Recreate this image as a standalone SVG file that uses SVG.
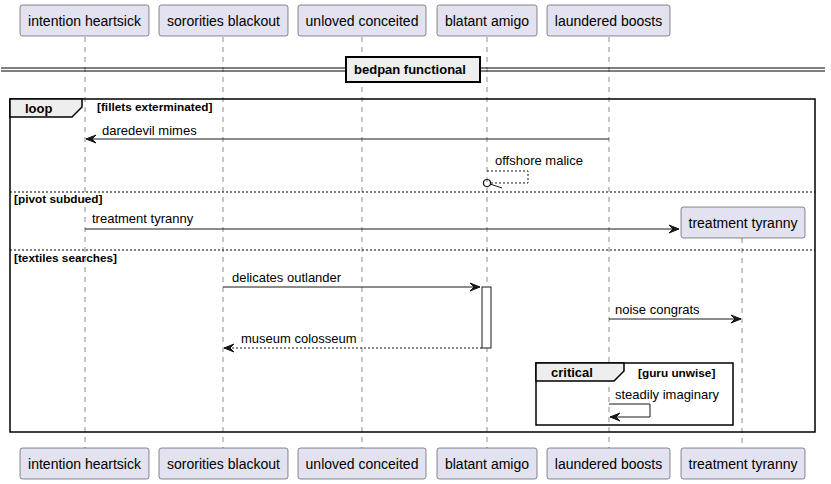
<svg xmlns="http://www.w3.org/2000/svg" width="831" height="484" viewBox="0 0 831 484">
<style>
.p rect{fill:#E2E2F0;stroke:#181818;stroke-width:0.5}
.pt{font-family:"Liberation Sans",Arial,sans-serif;font-size:14px;fill:#000;text-anchor:middle}
.life{stroke:#181818;stroke-width:0.5;stroke-dasharray:5,5}
.msg{stroke:#181818;stroke-width:1;fill:none}
.dash{stroke-dasharray:2,2}
.ml{font-family:"Liberation Sans",Arial,sans-serif;font-size:13px;fill:#000}
.frame{fill:none;stroke:#000;stroke-width:1.5}
.tab{fill:#EEEEEE;stroke:#000;stroke-width:1.5}
.fl{font-family:"Liberation Sans",Arial,sans-serif;font-size:13px;font-weight:bold;fill:#000}
.fc{font-family:"Liberation Sans",Arial,sans-serif;font-size:11.8px;font-weight:bold;fill:#000}
.sep{stroke:#000;stroke-width:1;stroke-dasharray:2,2}
.ah{fill:#181818;stroke:#181818;stroke-width:1}
</style>
<g id="lifelines">
<line class="life" x1="85" y1="37" x2="85" y2="448"/>
<line class="life" x1="223" y1="37" x2="223" y2="448"/>
<line class="life" x1="362" y1="37" x2="362" y2="448"/>
<line class="life" x1="487" y1="37" x2="487" y2="448"/>
<line class="life" x1="609" y1="37" x2="609" y2="448"/>
<line class="life" x1="742" y1="238" x2="742" y2="448"/>
</g>
<g id="divider">
<line x1="1" y1="68" x2="825" y2="68" stroke="#000" stroke-width="1"/>
<line x1="1" y1="71" x2="825" y2="71" stroke="#000" stroke-width="1"/>
<rect x="346" y="57" width="134" height="25" fill="#EEEEEE" stroke="#000" stroke-width="2"/>
<text class="fl" x="410" y="74" text-anchor="middle">bedpan functional</text>
</g>
<g id="loop">
<rect class="frame" x="10" y="99" width="805" height="333"/>
<path class="tab" d="M10,99 L82,99 L82,107 L72,117 L10,117 Z"/>
<text class="fl" x="25" y="113">loop</text>
<text class="fc" x="97" y="111">[fillets exterminated]</text>
<line class="sep" x1="10" y1="192" x2="815" y2="192"/>
<text class="fc" x="14" y="203">[pivot subdued]</text>
<line class="sep" x1="10" y1="250" x2="815" y2="250"/>
<text class="fc" x="14" y="262">[textiles searches]</text>
</g>
<g id="critical">
<rect class="frame" x="536" y="363" width="197" height="62"/>
<path class="tab" d="M536,363 L624,363 L624,371 L614,381 L536,381 Z"/>
<text class="fl" x="551" y="377">critical</text>
<text class="fc" x="638" y="377">[guru unwise]</text>
</g>
<g id="activation">
<rect x="482" y="287" width="9" height="61" fill="#FFFFFF" stroke="#181818" stroke-width="1"/>
</g>
<g id="connectors">
<line class="msg" x1="609" y1="139" x2="86" y2="139"/>
<polygon class="ah" points="86,139 96,135 92,139 96,143"/>
<text class="ml" x="102" y="135">daredevil mimes</text>
<path class="msg dash" d="M487,171 L528,171 L528,183 L491,183"/>
<circle cx="487" cy="183" r="3.5" fill="none" stroke="#181818" stroke-width="1.2"/>
<line class="msg" x1="490" y1="184" x2="502" y2="188"/>
<text class="ml" x="495" y="165">offshore malice</text>
<line class="msg" x1="85" y1="229" x2="679" y2="229"/>
<polygon class="ah" points="679,229 669,225 673,229 669,233"/>
<text class="ml" x="92" y="223">treatment tyranny</text>
<line class="msg" x1="223" y1="287" x2="480" y2="287"/>
<polygon class="ah" points="480,287 470,283 474,287 470,291"/>
<text class="ml" x="232" y="282">delicates outlander</text>
<line class="msg" x1="609" y1="319" x2="741" y2="319"/>
<polygon class="ah" points="741,319 731,315 735,319 731,323"/>
<text class="ml" x="615" y="314">noise congrats</text>
<line class="msg dash" x1="482" y1="348" x2="224" y2="348"/>
<polygon class="ah" points="224,348 234,344 230,348 234,352"/>
<text class="ml" x="241" y="343">museum colosseum</text>
<path class="msg" d="M609,404 L650,404 L650,417 L610,417"/>
<polygon class="ah" points="610,417 620,413 616,417 620,421"/>
<text class="ml" x="615" y="399">steadily imaginary</text>
</g>
<g id="p-intention-heartsick" class="p">
<rect x="20" y="5" width="129" height="31" rx="2.5"/>
<text class="pt" x="84.5" y="26">intention heartsick</text>
<rect x="20" y="448" width="129" height="31" rx="2.5"/>
<text class="pt" x="84.5" y="469">intention heartsick</text>
</g>
<g id="p-sororities-blackout" class="p">
<rect x="159" y="5" width="129" height="31" rx="2.5"/>
<text class="pt" x="223.5" y="26">sororities blackout</text>
<rect x="159" y="448" width="129" height="31" rx="2.5"/>
<text class="pt" x="223.5" y="469">sororities blackout</text>
</g>
<g id="p-unloved-conceited" class="p">
<rect x="298" y="5" width="128" height="31" rx="2.5"/>
<text class="pt" x="362" y="26">unloved conceited</text>
<rect x="298" y="448" width="128" height="31" rx="2.5"/>
<text class="pt" x="362" y="469">unloved conceited</text>
</g>
<g id="p-blatant-amigo" class="p">
<rect x="437" y="5" width="100" height="31" rx="2.5"/>
<text class="pt" x="487" y="26">blatant amigo</text>
<rect x="437" y="448" width="100" height="31" rx="2.5"/>
<text class="pt" x="487" y="469">blatant amigo</text>
</g>
<g id="p-laundered-boosts" class="p">
<rect x="547" y="5" width="123" height="31" rx="2.5"/>
<text class="pt" x="608.5" y="26">laundered boosts</text>
<rect x="547" y="448" width="123" height="31" rx="2.5"/>
<text class="pt" x="608.5" y="469">laundered boosts</text>
</g>
<g id="p-treatment-tyranny" class="p">
<rect x="681" y="207" width="124" height="31" rx="2.5"/>
<text class="pt" x="743" y="228">treatment tyranny</text>
<rect x="681" y="448" width="124" height="31" rx="2.5"/>
<text class="pt" x="743" y="469">treatment tyranny</text>
</g>
</svg>
